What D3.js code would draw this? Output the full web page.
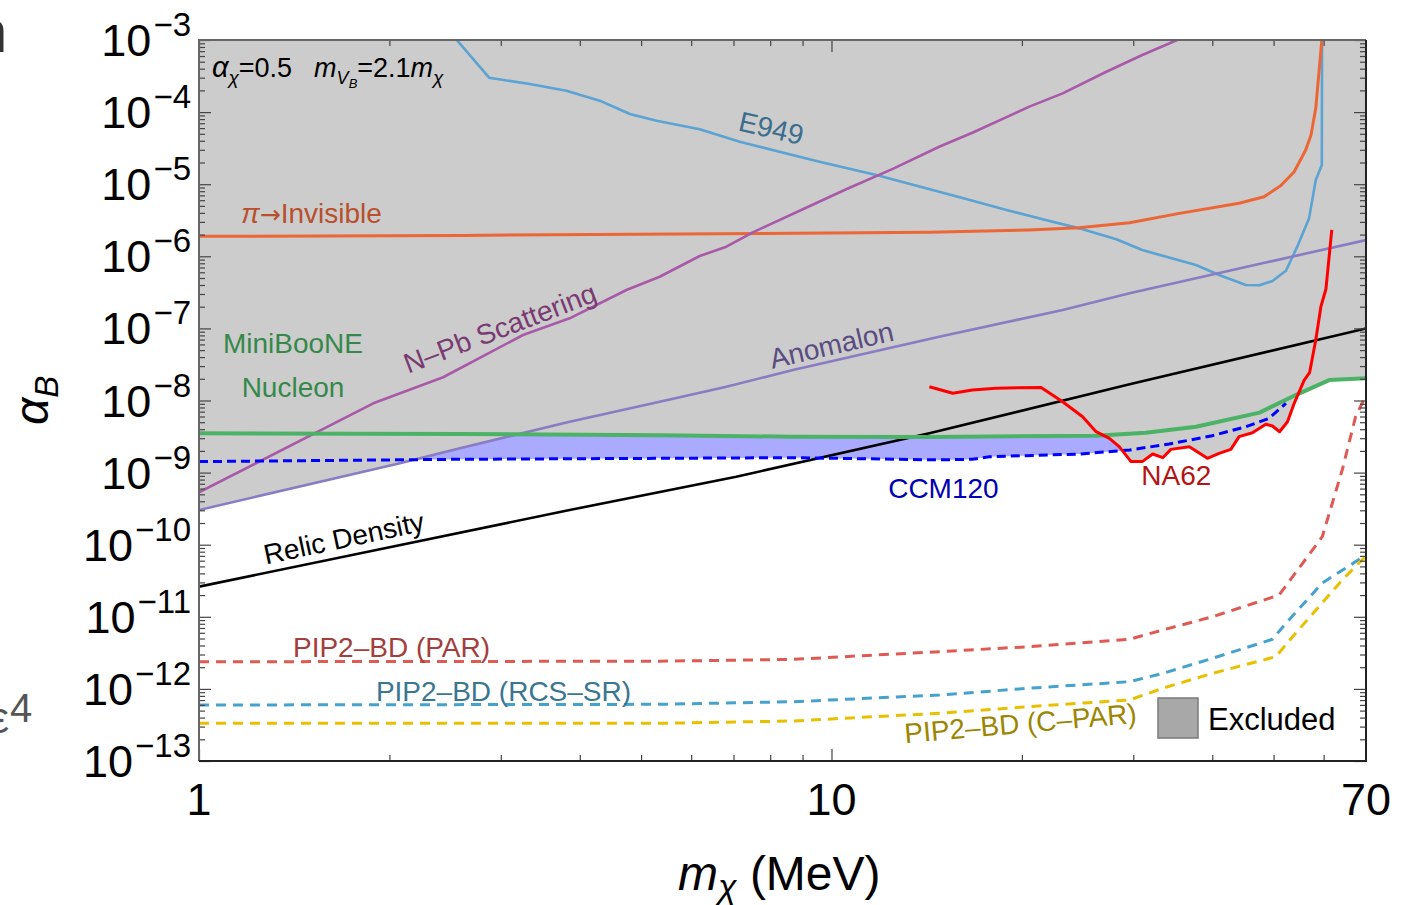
<!DOCTYPE html>
<html>
<head>
<meta charset="utf-8">
<title>alpha_B vs m_chi</title>
<script src="https://cdnjs.cloudflare.com/ajax/libs/d3/7.8.5/d3.min.js"></script>
<style>
body { margin: 0; background: white; }
svg text { font-family: "Liberation Sans", Arial, Helvetica, sans-serif; }
.curve { fill: none; stroke-linejoin: round; }
.tick line { stroke: #444; stroke-width: 1.2; }
.lbl { font-size: 28px; }
</style>
</head>
<body>
<div id="chart"></div>
<script>
// every curve is a list of [m_chi (MeV), alpha_B]

var e949 = [[2.556, 1e-3], [2.875, 3.0e-4], [3.334, 2.45e-4], [3.81, 1.98e-4], [4.30, 1.44e-4],
  [4.80, 9.4e-5], [5.29, 7.6e-5], [6.19, 5.77e-5], [7.16, 3.88e-5], [9.57, 2.05e-5],
  [11.77, 1.34e-5], [14.8, 7.87e-6], [16.72, 5.9e-6], [19.1, 4.29e-6], [21.8, 3.18e-6],
  [24.65, 2.44e-6], [28.2, 1.72e-6], [31.0, 1.22e-6], [37.7, 7.57e-7], [41.0, 5.5e-7],
  [45.2, 4.0e-7], [47.5, 3.96e-7], [49.8, 4.54e-7], [52.3, 6.3e-7], [54.5, 1.36e-6],
  [56.9, 3.36e-6], [58.3, 1.14e-5], [59.6, 1.85e-5], [59.65, 1e-3]];

var piInvisible = [[1, 1.89e-6], [2.6, 1.95e-6], [14.3, 2.15e-6], [20.5, 2.32e-6], [24.6, 2.49e-6],
  [29.6, 2.92e-6], [35.5, 3.94e-6], [44.1, 5.43e-6], [48.3, 6.71e-6], [51.3, 9.5e-6],
  [53.9, 1.49e-5], [56.2, 2.98e-5], [57.3, 4.8e-5], [58.3, 1.13e-4], [59.6, 1e-3]];

var nPb = [[1, 5.33e-10], [1.886, 9.14e-9], [2.432, 2.1e-8], [3.253, 8.1e-8], [3.855, 1.38e-7],
  [4.74, 3.41e-7], [5.35, 5.2e-7], [6.19, 1.01e-6], [6.82, 1.36e-6], [7.51, 2.15e-6],
  [9.01, 4.49e-6], [10.55, 8.5e-6], [12.5, 1.63e-5], [14.8, 3.31e-5], [16.7, 5.18e-5],
  [20.55, 1.19e-4], [23.2, 1.82e-4], [27.2, 3.63e-4], [31.0, 6.19e-4], [35.2, 1e-3]];

var anomalon = [[1, 3.03e-10], [2.078, 1.35e-9], [2.585, 2.17e-9], [3.855, 5.08e-9], [5.35, 9.6e-9],
  [6.82, 1.55e-8], [8.69, 2.65e-8], [14.8, 7.67e-8], [23.2, 1.8e-7], [29.6, 3.07e-7],
  [48.0, 8.0e-7], [70, 1.68e-6]];

var miniBooNE = [[1, 3.51e-9], [2.585, 3.43e-9], [5.35, 3.29e-9], [8.69, 3.15e-9], [14.3, 3.12e-9],
  [26.2, 3.25e-9], [31.4, 3.58e-9], [37.7, 4.33e-9], [47.5, 6.78e-9], [54.2, 1.19e-8],
  [61.2, 1.92e-8], [70, 2.03e-8]];

var na62 = [[14.28, 1.55e-8], [15.55, 1.26e-8], [16.7, 1.40e-8], [18.2, 1.48e-8], [21.45, 1.52e-8],
  [23.2, 9.6e-9], [24.95, 5.96e-9], [26.2, 3.69e-9], [27.5, 2.99e-9], [28.5, 2.29e-9],
  [29.76, 1.42e-9], [31.0, 1.42e-9], [32.2, 1.81e-9], [33.4, 1.61e-9], [34.4, 2.10e-9],
  [36.8, 2.29e-9], [39.3, 1.58e-9], [41.0, 1.85e-9], [42.8, 2.10e-9], [44.1, 3.15e-9],
  [46.3, 3.57e-9], [48.6, 4.68e-9], [49.8, 4.43e-9], [51.1, 3.69e-9], [52.6, 5.08e-9],
  [53.9, 9.14e-9], [55.9, 1.92e-8], [57.0, 2.43e-8], [58.3, 6.9e-8], [59.4, 2.0e-7],
  [60.5, 3.52e-7], [61.8, 2.32e-6]];

var ccm120 = [[1, 1.42e-9], [2.585, 1.53e-9], [8.69, 1.61e-9], [14.8, 1.50e-9], [16.7, 1.53e-9],
  [17.77, 1.66e-9], [24.65, 1.81e-9], [29.6, 2.06e-9], [34.2, 2.49e-9], [40.0, 3.25e-9],
  [45.2, 4.33e-9], [49.2, 5.66e-9], [52.3, 9.14e-9]];

var relic = [[1, 2.62e-11], [3.855, 3.03e-10], [7.07, 8.77e-10], [14.28, 3.51e-9],
  [29.6, 1.68e-8], [70, 1.0e-7]];

var pip2Par = [[1, 2.38e-12], [5.35, 2.42e-12], [8.69, 2.57e-12], [14.8, 3.28e-12], [20.5, 3.85e-12],
  [29.6, 4.88e-12], [33.4, 6.56e-12], [40.0, 1.0e-11], [51.0, 2.0e-11], [59.7, 1.29e-10],
  [64.2, 1.09e-9], [67.4, 5.96e-9], [70, 1.19e-8]];

var pip2RcsSr = [[1, 5.98e-13], [5.35, 6.11e-13], [8.69, 6.64e-13], [14.8, 8.22e-13], [20.5, 1.02e-12],
  [29.6, 1.26e-12], [33.4, 1.64e-12], [40.0, 2.65e-12], [49.8, 4.88e-12], [52.3, 8.13e-12],
  [59.7, 2.94e-11], [70, 7.2e-11]];

var pip2CPar = [[1, 3.33e-13], [5.35, 3.33e-13], [8.69, 3.59e-13], [14.8, 4.59e-13], [20.5, 5.67e-13],
  [29.6, 7.02e-13], [33.4, 1.02e-12], [40.0, 1.64e-12], [50.4, 2.8e-12], [53.6, 5.3e-12],
  [64.2, 3.24e-11], [70, 6.97e-11]];

// tick labels
var xTickLabels = [1, 10, 70];
var yTickExps = [-3, -4, -5, -6, -7, -8, -9, -10, -11, -12, -13];

var W = 1411, H = 905;
var svg = d3.select('#chart').append('svg').attr('width', W).attr('height', H);

var x = d3.scaleLog().domain([1, 70]).range([199, 1366]);
var y = d3.scaleLog().domain([1e-13, 1e-3]).range([761, 40]);

svg.append('clipPath').attr('id', 'plotclip')
  .append('rect').attr('x', 199).attr('y', 40).attr('width', 1167).attr('height', 721);

var plot = svg.append('g').attr('clip-path', 'url(#plotclip)');

// log-log interpolation of a curve, null outside its range
function logAt(curve, m) {
  var lm = Math.log10(m);
  for (var i = 0; i < curve.length - 1; i++) {
    var a = Math.log10(curve[i][0]), b = Math.log10(curve[i + 1][0]);
    if (b > a && lm >= a && lm <= b) {
      var va = Math.log10(curve[i][1]), vb = Math.log10(curve[i + 1][1]);
      return va + (lm - a) / (b - a) * (vb - va);
    }
  }
  return null;
}

// lower edge of the existing exclusions
var existing = [e949, piInvisible, nPb, anomalon, miniBooNE, na62];
var grid = d3.range(0, 1501).map(i => Math.pow(10, i / 1500 * Math.log10(70)));
var envelope = grid.map(function (m) {
  var v = -3;
  existing.forEach(function (c) {
    var l = logAt(c, m);
    if (l !== null && l < v) v = l;
  });
  return { m: m, env: v, ccm: logAt(ccm120, m) };
});

plot.append('path')
  .datum(envelope)
  .attr('fill', '#cccccc')
  .attr('d', d3.area()
    .x(d => x(d.m))
    .y0(y(1e-3))
    .y1(d => y(Math.pow(10, d.env))));

plot.append('path')
  .datum(envelope)
  .attr('fill', '#aaaaff')
  .attr('d', d3.area()
    .defined(d => d.ccm !== null && d.ccm < d.env)
    .x(d => x(d.m))
    .y0(d => y(Math.pow(10, d.ccm)))
    .y1(d => y(Math.pow(10, d.env))));

var line = d3.line().x(d => x(d[0])).y(d => y(d[1]));

var curves = [
  { data: e949, color: '#5ba3d2', width: 2.6 },
  { data: piInvisible, color: '#ec6636', width: 3 },
  { data: nPb, color: '#a85aa8', width: 2.6 },
  { data: anomalon, color: '#8a7cc2', width: 2.6 },
  { data: relic, color: '#000000', width: 2.6 },
  { data: miniBooNE, color: '#4cb266', width: 4 },
  { data: ccm120, color: '#0000ff', width: 3, dash: '9,5' },
  { data: na62, color: '#ff0000', width: 3 },
  { data: pip2Par, color: '#de5a52', width: 3, dash: '10,7' },
  { data: pip2RcsSr, color: '#46a2cc', width: 3, dash: '10,7' },
  { data: pip2CPar, color: '#e8c000', width: 3, dash: '10,7' }
];

curves.forEach(function (c) {
  plot.append('path')
    .datum(c.data)
    .attr('class', 'curve')
    .attr('stroke', c.color)
    .attr('stroke-width', c.width)
    .attr('stroke-dasharray', c.dash || null)
    .attr('d', line);
});

// curve labels, anchored in data coordinates
var labels = [
  { t: 'E949', m: 8.03, a: 6.0e-5, c: '#3b6e8e', rot: 13, mid: true, size: 26 },
  { t: 'N–Pb Scattering', m: 2.99, a: 1.01e-7, c: '#7a3a72', rot: -21, mid: true },
  { t: 'Anomalon', m: 10.0, a: 5.9e-8, c: '#5a4c82', rot: -13, mid: true },
  { t: 'MiniBooNE', m: 1.408, a: 4.56e-8, c: '#35884a' },
  { t: 'Nucleon', m: 1.408, a: 1.12e-8, c: '#35884a' },
  { t: 'Relic Density', m: 1.694, a: 1.24e-10, c: '#000000', rot: -12, mid: true },
  { t: 'CCM120', m: 15.03, a: 4.45e-10, c: '#0000b4' },
  { t: 'NA62', m: 35.1, a: 6.73e-10, c: '#b41414' },
  { t: 'PIP2–BD (PAR)', m: 1.408, a: 2.77e-12, c: '#a23e3e', anchor: 'start' },
  { t: 'PIP2–BD (RCS–SR)', m: 1.904, a: 6.86e-13, c: '#3a7690', anchor: 'start' },
  { t: 'PIP2–BD (C–PAR)', m: 19.96, a: 2.44e-13, c: '#9c8500', rot: -5 }
];

labels.forEach(function (l) {
  svg.append('text')
    .attr('class', 'lbl')
    .attr('font-size', l.size || null)
    .attr('transform', 'translate(' + x(l.m) + ',' + y(l.a) + ') rotate(' + (l.rot || 0) + ')')
    .attr('text-anchor', l.anchor || 'middle')
    .attr('dy', l.mid ? '0.35em' : 0)
    .attr('fill', l.c)
    .text(l.t);
});

// pi -> invisible, the arrow needs a font that has it
var pil = svg.append('text').attr('class', 'lbl')
  .attr('x', x(1.165)).attr('y', y(2.92e-6)).attr('fill', '#b8502c');
pil.append('tspan').attr('font-style', 'italic').text('π');
pil.append('tspan').attr('font-family', 'DejaVu Sans').attr('font-size', 25).text('→');
pil.append('tspan').text('Invisible');

// parameters note
var note = svg.append('text')
  .attr('x', x(1.048)).attr('y', y(3.07e-4))
  .attr('font-size', 27).attr('fill', '#000');
note.append('tspan').attr('font-style', 'italic').attr('font-size', 29).text('α');
note.append('tspan').attr('font-style', 'italic').attr('font-size', 19).attr('dy', 7).text('χ');
note.append('tspan').attr('dy', -7).text('=0.5');
note.append('tspan').attr('font-style', 'italic').attr('dx', 22).text('m');
note.append('tspan').attr('font-style', 'italic').attr('font-size', 18).attr('dy', 7).text('V');
note.append('tspan').attr('font-style', 'italic').attr('font-size', 13).attr('dy', 4).text('B');
note.append('tspan').attr('dy', -11).text('=2.1');
note.append('tspan').attr('font-style', 'italic').text('m');
note.append('tspan').attr('font-style', 'italic').attr('font-size', 19).attr('dy', 7).text('χ');

// legend
svg.append('rect')
  .attr('x', 1158).attr('y', 698).attr('width', 40).attr('height', 40)
  .attr('fill', '#a8a8a8').attr('stroke', '#7a7a7a').attr('stroke-width', 1.5);
svg.append('text')
  .attr('x', 1208).attr('y', 730)
  .attr('font-size', 31).attr('fill', '#000')
  .text('Excluded');

// ticks on all four sides, pointing inward
var xMajor = [1, 10];
var xMinor = [2, 3, 4, 5, 6, 7, 8, 9, 20, 30, 40, 50, 60];
var yMajor = yTickExps.map(e => Math.pow(10, e));
var yMinor = [];
yTickExps.slice(1).forEach(function (e) {
  for (var k = 2; k <= 9; k++) yMinor.push(k * Math.pow(10, e));
});

function addAxis(axisFn, scale, vals, size, tx, ty) {
  var g = svg.append('g')
    .attr('transform', 'translate(' + tx + ',' + ty + ')')
    .call(axisFn(scale).tickValues(vals).tickSize(-size).tickFormat(''));
  g.select('.domain').remove();
}
addAxis(d3.axisBottom, x, xMajor, 12, 0, 761);
addAxis(d3.axisBottom, x, xMinor, 6, 0, 761);
addAxis(d3.axisTop, x, xMajor, 12, 0, 40);
addAxis(d3.axisTop, x, xMinor, 6, 0, 40);
addAxis(d3.axisLeft, y, yMajor, 12, 199, 0);
addAxis(d3.axisLeft, y, yMinor, 6, 199, 0);
addAxis(d3.axisRight, y, yMajor, 12, 1366, 0);
addAxis(d3.axisRight, y, yMinor, 6, 1366, 0);

// frame
svg.append('path').attr('d', 'M199,761V40H1366').attr('fill', 'none')
  .attr('stroke', '#666').attr('stroke-width', 2);
svg.append('path').attr('d', 'M199,761H1366V40').attr('fill', 'none')
  .attr('stroke', '#222').attr('stroke-width', 2);

// tick labels
yTickExps.forEach(function (e) {
  var t = svg.append('text')
    .attr('x', 191).attr('y', y(Math.pow(10, e)) + 16)
    .attr('text-anchor', 'end').attr('fill', '#000');
  t.append('tspan').attr('font-size', 45).text('10');
  t.append('tspan').attr('font-size', 33).attr('dx', 2).attr('dy', -20).text('−' + (-e));
});

xTickLabels.forEach(function (v) {
  svg.append('text')
    .attr('x', x(v)).attr('y', 815)
    .attr('text-anchor', 'middle').attr('font-size', 45).attr('fill', '#000')
    .text(v);
});

// axis titles
var xt = svg.append('text').attr('x', 678).attr('y', 890).attr('font-size', 48).attr('fill', '#000');
xt.append('tspan').attr('font-style', 'italic').text('m');
xt.append('tspan').attr('font-style', 'italic').attr('font-size', 34).attr('dy', 8).text('χ');
xt.append('tspan').attr('dy', -8).text(' (MeV)');

var yt = svg.append('text').attr('transform', 'translate(48,425) rotate(-90)')
  .attr('font-size', 48).attr('fill', '#000');
yt.append('tspan').attr('font-style', 'italic').text('α');
yt.append('tspan').attr('font-style', 'italic').attr('font-size', 33).attr('dy', 10).text('B');

// fragments of the neighbouring panel at the left edge
svg.append('text').attr('x', -26).attr('y', 52).attr('font-size', 60).attr('fill', '#333').text('n');
svg.append('text').attr('x', 9).attr('y', 733).attr('text-anchor', 'end')
  .attr('font-size', 44).attr('fill', '#555').text('ε');
svg.append('text').attr('x', 10).attr('y', 722).attr('font-size', 40).attr('fill', '#555').text('4');
</script>
</body>
</html>
